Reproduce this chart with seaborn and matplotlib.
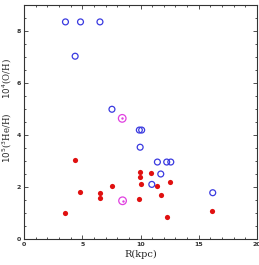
import matplotlib
matplotlib.use("Agg")
import matplotlib.pyplot as plt
import seaborn as sns
import pandas as pd
from matplotlib.ticker import MultipleLocator

# O/H (open blue circles)
oh_r = [3.56, 4.85, 6.52, 4.39, 7.55, 9.9, 10.1, 9.97, 11.45, 12.25, 12.6, 11.74, 10.97, 16.2]
oh_v = [8.35, 8.35, 8.35, 7.03, 4.99, 4.19, 4.19, 3.53, 2.96, 2.96, 2.96, 2.5, 2.1, 1.78]

# 3He/H (filled red circles)
he_r = [4.36, 4.84, 6.55, 6.55, 7.58, 3.56, 9.94, 9.94, 10.06, 10.94, 11.45, 11.74, 12.54, 9.86, 12.25, 16.18]
he_v = [3.03, 1.81, 1.78, 1.56, 2.04, 1.01, 2.59, 2.37, 2.13, 2.54, 2.04, 1.68, 2.19, 1.55, 0.86, 1.09]

# highlighted points (magenta target symbols)
hl_r = [8.43, 8.46]
hl_v = [4.64, 1.47]

sns.set_style("ticks")
plt.rcParams['font.family'] = ['DejaVu Sans']

fig = plt.figure(figsize=(2.59, 2.65), dpi=100)
ax = fig.add_axes([24/259, 26/265, 233/259, 234/265])

oh = pd.DataFrame({"R": oh_r, "v": oh_v})
he = pd.DataFrame({"R": he_r, "v": he_v})
hl = pd.DataFrame({"R": hl_r, "v": hl_v})

sns.scatterplot(data=oh, x="R", y="v", ax=ax, marker="o", s=18,
                facecolor="none", edgecolor="#3a3ae0", linewidth=0.9)
sns.scatterplot(data=he, x="R", y="v", ax=ax, marker="o", s=14,
                color="#e01010", edgecolor="#e01010", linewidth=0)
sns.scatterplot(data=hl, x="R", y="v", ax=ax, marker="o", s=30,
                facecolor="none", edgecolor="#e040e0", linewidth=0.9)
sns.scatterplot(data=hl, x="R", y="v", ax=ax, marker="o", s=3,
                color="#e040e0", edgecolor="#e040e0", linewidth=0)

ax.set_xlim(0, 20)
ax.set_ylim(0, 9)
ax.xaxis.set_major_locator(MultipleLocator(5))
ax.xaxis.set_minor_locator(MultipleLocator(1))
ax.yaxis.set_major_locator(MultipleLocator(2))
ax.yaxis.set_minor_locator(MultipleLocator(0.5))
ax.tick_params(which="both", direction="in", top=True, right=True,
               labelsize=4.5, width=0.6, colors="#333333", pad=2)
ax.tick_params(which="major", length=3)
ax.tick_params(which="minor", length=1.5)
for lab in ax.get_xticklabels() + ax.get_yticklabels():
    lab.set_fontweight("bold")
for s in ax.spines.values():
    s.set_visible(True)
    s.set_linewidth(0.8)
    s.set_color("#333333")

ax.set_xlabel("R(kpc)", family="DejaVu Serif", fontsize=7, labelpad=2)
ax.set_ylabel("")
fig.text(7/259, 1 - 79/265, "$10^4$(O/H)", rotation=90, ha="center", va="center",
         family="DejaVu Serif", fontsize=6.2)
fig.text(7/259, 1 - 138/265, "$10^5$($^3$He/H)", rotation=90, ha="center", va="center",
         family="DejaVu Serif", fontsize=6.2)

fig.savefig("out.png", dpi=100)
